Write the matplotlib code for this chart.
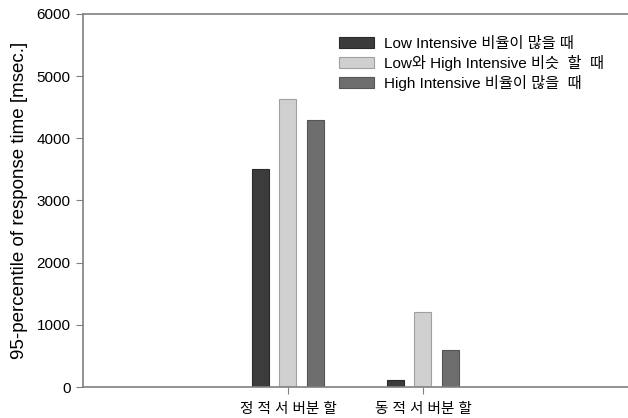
import numpy as np
import matplotlib
matplotlib.use('Agg')
import matplotlib.pyplot as plt

plt.rcParams['font.family'] = ['Liberation Sans', 'Noto Sans CJK KR', 'DejaVu Sans']

groups = ['정 적 서 버분 할', '동 적 서 버분 할']
series_names = ['Low Intensive 비율이 많을 때',
                'Low와 High Intensive 비슷  할  때',
                'High Intensive 비율이 많을  때']
low_vals = [3500, 110]
similar_vals = [4630, 1210]
high_vals = [4300, 600]

colors = ['#3c3c3c', '#d0d0d0', '#6e6e6e']
edges = ['#2a2a2a', '#a0a0a0', '#555555']

fig = plt.figure(figsize=(6.28, 4.18), dpi=100)
ax = fig.add_axes([0.132, 0.074, 0.868, 0.893])

x = np.arange(len(groups))
offsets = [-0.204, 0.0, 0.204]
width = 0.126
for vals, off, c, ec, name in zip([low_vals, similar_vals, high_vals], offsets, colors, edges, series_names):
    ax.bar(x + off, vals, width, color=c, edgecolor=ec, linewidth=0.8, label=name)

ax.set_xlim(-1.52, 2.52)
ax.set_ylim(0, 6000)
ax.set_yticks(range(0, 6001, 1000))
ax.set_xticks(x)
ax.set_xticklabels(groups, fontsize=10.5)
ax.tick_params(axis='y', labelsize=11, length=5, color='#808080', direction='out', pad=4)
ax.tick_params(axis='x', length=5, color='#808080', direction='out', pad=6)
ax.set_ylabel('95-percentile of response time [msec.]', fontsize=13.5, labelpad=6)

for side in ['left', 'bottom', 'top']:
    ax.spines[side].set_color('#808080')
    ax.spines[side].set_linewidth(1.2)
ax.spines['right'].set_visible(False)

ax.legend(loc='upper left', bbox_to_anchor=(0.445, 0.975), frameon=False, fontsize=11,
          handlelength=2.3, handleheight=0.75, labelspacing=0.25, handletextpad=0.6)

fig.savefig('out.png', dpi=100)
